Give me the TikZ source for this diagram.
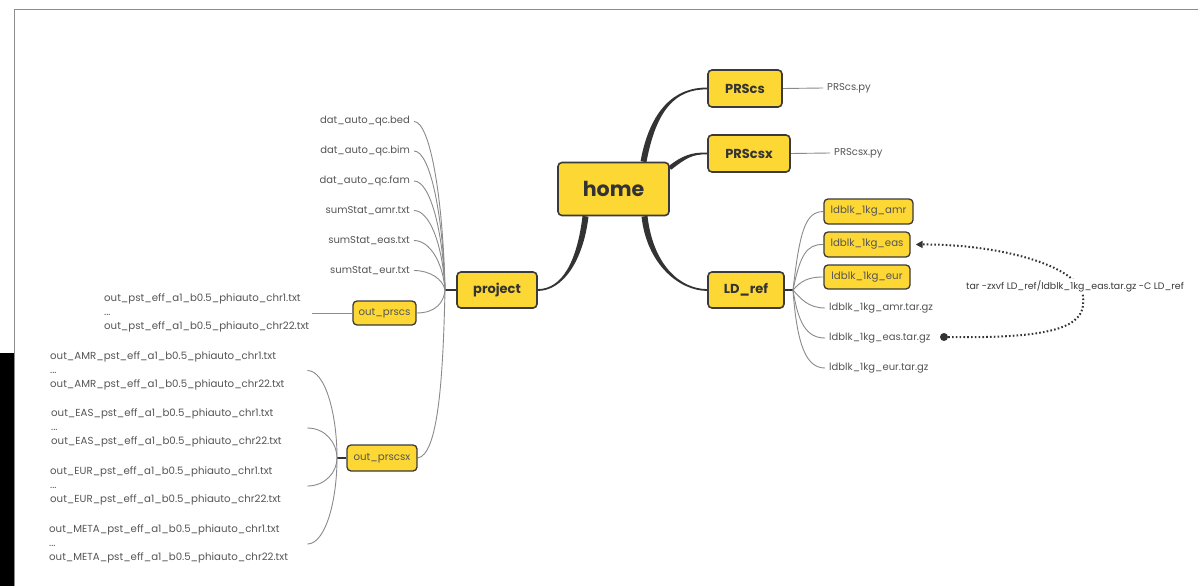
\documentclass[tikz,border=0pt]{standalone}
\usepackage{fontspec}
\setmainfont{Poppins}
\usetikzlibrary{calc,arrows.meta}

\definecolor{boxfill}{HTML}{FDD733}
\definecolor{boxline}{HTML}{3A3A3A}
\definecolor{trunk}{HTML}{333333}
\definecolor{twig}{HTML}{8A8A8A}
\definecolor{leaftext}{HTML}{555555}
\definecolor{framecol}{HTML}{8C8C8C}

\pgfdeclarelayer{paper}
\pgfdeclarelayer{bg}
\pgfsetlayers{paper,bg,main}

% tapered branch: start, control 1, control 2, end, half width at start, half width at end
\newcommand\mmbranch[6]{%
  \fill[trunk] ($(#1)!#5!90:(#2)$) .. controls ($(#2)!#5!-90:(#1)$) and ($(#3)!#6!90:(#4)$) .. ($(#4)!#6!-90:(#3)$)
     -- ($(#4)!#6!90:(#3)$) .. controls ($(#3)!#6!-90:(#4)$) and ($(#2)!#5!90:(#1)$) .. ($(#1)!#5!-90:(#2)$) -- cycle;}

\tikzset{
  topic/.style={draw=boxline, line width=1.6pt, fill=boxfill, rounded corners=4pt,
    inner sep=0pt, text=trunk, font=\fontsize{13}{15}\selectfont\bfseries},
  subtopic/.style={draw=boxline, line width=1.3pt, fill=boxfill, rounded corners=4pt,
    inner sep=0pt, text=leaftext, font=\fontsize{10.2}{12}\selectfont},
  leaf/.style={inner xsep=4pt, inner ysep=1pt, text=leaftext, font=\fontsize{10}{12}\selectfont},
  fileblock/.style={inner sep=0pt, align=left, text=leaftext,
    font=\fontsize{10.2}{14}\selectfont},
  twigline/.style={draw=twig, line width=0.9pt},
  stub/.style={draw=trunk, line width=1.6pt},
  cmdline/.style={draw=trunk, line width=2pt, dash pattern=on 1.6pt off 2.2pt,
    -{Triangle[length=7pt,width=7pt]}},
}

\begin{document}
\begin{tikzpicture}[x=1pt,y=-1pt]
\useasboundingbox (0,0) rectangle (1198,586);

% central topic and main topics
\node[topic, minimum width=111pt, minimum height=53pt, font=\fontsize{20.6}{24}\selectfont\bfseries]
  (home) at (613.5,189) {home};
\node[topic, minimum width=74pt, minimum height=37pt] (prscs) at (745,88.5) {PRScs};
\node[topic, minimum width=82pt, minimum height=37pt] (prscsx) at (749,153.5) {PRScsx};
\node[topic, minimum width=76pt, minimum height=36pt] (ldref) at (746,290) {LD\_ref};
\node[topic, minimum width=80pt, minimum height=36pt] (project) at (497,290) {project};

% subtopics
\node[subtopic, minimum width=63pt, minimum height=24pt] (outprscs) at (384.5,313) {out\_prscs};
\node[subtopic, minimum width=70pt, minimum height=26pt] (outprscsx) at (382,458) {out\_prscsx};
\node[subtopic, minimum width=89pt, minimum height=25pt] (ldamr) at (868.5,211.5) {ldblk\_1kg\_amr};
\node[subtopic, minimum width=86pt, minimum height=25pt] (ldeas) at (867,244.5) {ldblk\_1kg\_eas};
\node[subtopic, minimum width=86pt, minimum height=24pt] (ldeur) at (867,277) {ldblk\_1kg\_eur};

% plain leaves
\node[leaf, anchor=west] (prscspy) at (823,88) {PRScs.py};
\node[leaf, anchor=west] (prscsxpy) at (830,153) {PRScsx.py};
\node[leaf, anchor=west] (tamr) at (825,308) {ldblk\_1kg\_amr.tar.gz};
\node[leaf, anchor=west] (teas) at (825,338) {ldblk\_1kg\_eas.tar.gz};
\node[leaf, anchor=west] (teur) at (825,368) {ldblk\_1kg\_eur.tar.gz};

\node[leaf, anchor=east] (bed) at (414,121.5) {dat\_auto\_qc.bed};
\node[leaf, anchor=east] (bim) at (414,151) {dat\_auto\_qc.bim};
\node[leaf, anchor=east] (fam) at (414,181) {dat\_auto\_qc.fam};
\node[leaf, anchor=east] (samr) at (414,210.5) {sumStat\_amr.txt};
\node[leaf, anchor=east] (seas) at (414,240.5) {sumStat\_eas.txt};
\node[leaf, anchor=east] (seur) at (414,270.5) {sumStat\_eur.txt};

% result file groups
\node[fileblock, anchor=west, text width=208pt] (pstout) at (104,313)
  {out\_pst\_eff\_a1\_b0.5\_phiauto\_chr1.txt\\...\\out\_pst\_eff\_a1\_b0.5\_phiauto\_chr22.txt};
\node[fileblock, anchor=west, text width=257pt] (amrout) at (50,370.5)
  {out\_AMR\_pst\_eff\_a1\_b0.5\_phiauto\_chr1.txt\\...\\out\_AMR\_pst\_eff\_a1\_b0.5\_phiauto\_chr22.txt};
\node[fileblock, anchor=west, text width=256pt] (easout) at (51,428)
  {out\_EAS\_pst\_eff\_a1\_b0.5\_phiauto\_chr1.txt\\...\\out\_EAS\_pst\_eff\_a1\_b0.5\_phiauto\_chr22.txt};
\node[fileblock, anchor=west, text width=257pt] (eurout) at (50,486)
  {out\_EUR\_pst\_eff\_a1\_b0.5\_phiauto\_chr1.txt\\...\\out\_EUR\_pst\_eff\_a1\_b0.5\_phiauto\_chr22.txt};
\node[fileblock, anchor=west, text width=258pt] (metaout) at (49,544)
  {out\_META\_pst\_eff\_a1\_b0.5\_phiauto\_chr1.txt\\...\\out\_META\_pst\_eff\_a1\_b0.5\_phiauto\_chr22.txt};

% extraction command
\node[circle, fill=trunk, minimum size=8pt, inner sep=0pt] (src) at (944,337) {};
\node[fill=white, inner sep=1.5pt, text=boxline, font=\fontsize{9.4}{11}\selectfont]
  (cmd) at (1075,286) {tar -zxvf LD\_ref/ldblk\_1kg\_eas.tar.gz -C LD\_ref};
\coordinate (easin) at ([xshift=5pt]ldeas.east);

% junctions
\coordinate (pj) at (445,290);
\coordinate (xj) at (337,458);
\coordinate (lj) at (793,290);

\begin{pgfonlayer}{paper}
  \fill[white] (0,0) rectangle (1198,586);
  \fill[black] (0,353) rectangle (14,586);
  \draw[framecol, line width=1.6pt] (1198,9.5) -- (14.5,9.5) -- (14.5,586);
\end{pgfonlayer}

\begin{pgfonlayer}{bg}
  % main branches
  \coordinate (hProj) at ([xshift=-28pt]home.south);
  \coordinate (hLd) at ([xshift=31pt]home.south);
  \coordinate (hPrscs) at ([xshift=30pt]home.north);
  \coordinate (hPrscsx) at ([yshift=21pt]home.east);
  \mmbranch{hProj}{580,262}{562,290}{project.east}{3pt}{0.9pt}
  \mmbranch{hLd}{650,265}{680,290}{ldref.west}{3pt}{0.9pt}
  \mmbranch{hPrscs}{653,110}{675,88}{prscs.west}{3pt}{0.9pt}
  \mmbranch{hPrscsx}{684,157}{692,153}{prscsx.west}{2.2pt}{0.9pt}

  % leaves of the main topics
  \draw[twigline] (prscs.east) -- (prscspy.west);
  \draw[twigline] (prscsx.east) -- (prscsxpy.west);

  % LD_ref children
  \draw[stub] (ldref.east) -- (lj);
  \draw[twigline] (lj) .. controls (800,228) and (806,212) .. (ldamr.west);
  \draw[twigline] (lj) .. controls (800,256) and (806,244) .. (ldeas.west);
  \draw[twigline] (lj) .. controls (801,281) and (808,277) .. (ldeur.west);
  \draw[twigline] (lj) .. controls (800,298) and (808,308) .. (tamr.west);
  \draw[twigline] (lj) .. controls (798,322) and (806,338) .. (teas.west);
  \draw[twigline] (lj) .. controls (797,345) and (806,368) .. (teur.west);

  % project children
  \draw[stub] (project.west) -- (pj);
  \foreach \n in {bed,bim,fam,samr,seas,seur}
    \draw[twigline] (\n.east) .. controls ($(\n.east)+(16,0)$) and ($(pj)!0.55!(pj|-\n.east)+(-2,0)$) .. (pj);
  \draw[twigline] (outprscs.east) .. controls (436,313) and (444,302) .. (pj);
  \draw[twigline] (outprscsx.east) .. controls (438,455) and (443,380) .. (pj);
  \draw[twigline] (pstout.east) -- (outprscs.west);

  % out_prscsx children
  \draw[stub] (outprscsx.west) -- (xj);
  \foreach \n in {amrout,easout,eurout,metaout}
    \draw[twigline] (\n.east) .. controls ($(\n.east)+(18,0)$) and ($(xj)!0.5!(xj|-\n.east)$) .. (xj);

  % extraction command
  \draw[cmdline] (src) .. controls (1070,339) and (1086,322) .. (1083,296)
     .. controls (1079,266) and (1000,244) .. (easin);
\end{pgfonlayer}
\end{tikzpicture}
\end{document}
